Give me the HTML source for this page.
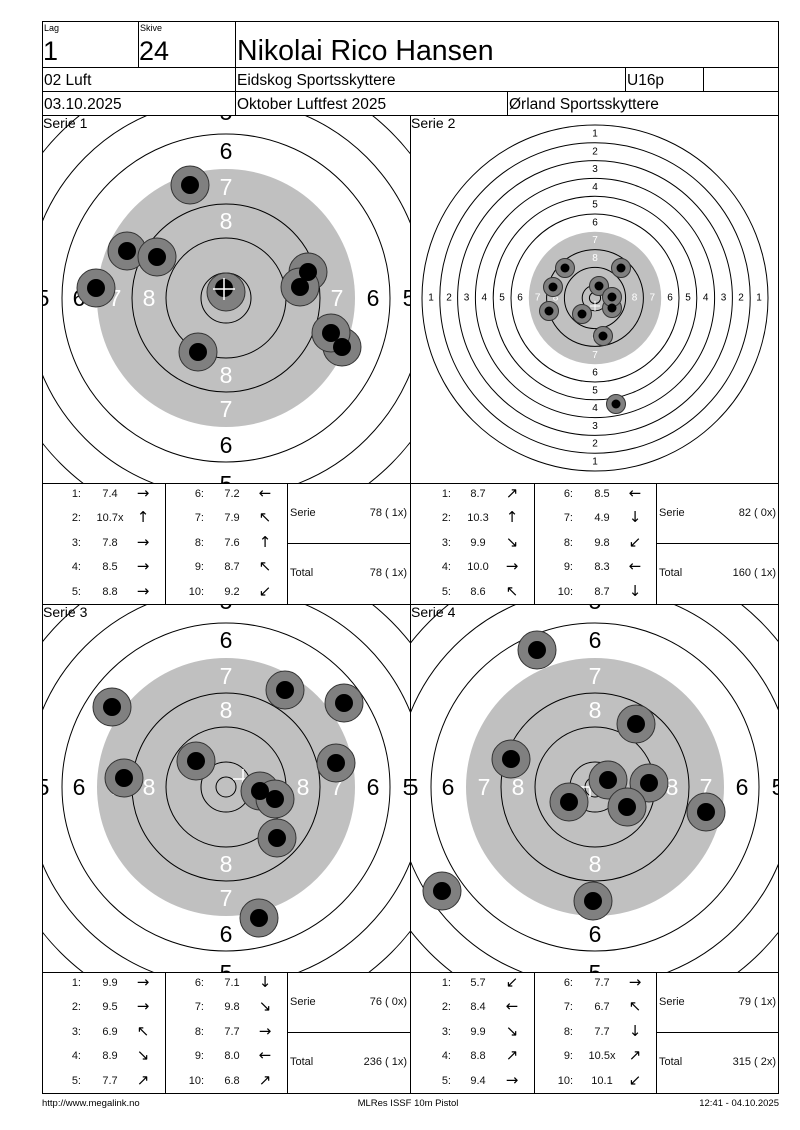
<!DOCTYPE html>
<html><head><meta charset="utf-8"><style>
html,body{margin:0;padding:0;background:#fff;}
svg{display:block;font-family:"Liberation Sans",Arial,sans-serif;}
.t{font-size:11px;fill:#111;}
.n{font-size:11px;fill:#111;text-anchor:end;}
.v{font-size:11px;fill:#111;text-anchor:middle;}
.a{font-size:15px;fill:#000;text-anchor:middle;font-family:"DejaVu Sans",sans-serif;}
.big{font-size:23px;text-anchor:middle;dominant-baseline:central;}
.sm{font-size:10px;text-anchor:middle;dominant-baseline:central;}
</style></head><body>
<svg width="800" height="1130" viewBox="0 0 800 1130" xmlns="http://www.w3.org/2000/svg">
<defs>
<clipPath id="c1"><rect x="42" y="115" width="368" height="368"/></clipPath>
<clipPath id="c2"><rect x="410" y="115" width="368" height="368"/></clipPath>
<clipPath id="c3"><rect x="42" y="604" width="368" height="368"/></clipPath>
<clipPath id="c4"><rect x="410" y="604" width="368" height="368"/></clipPath>
</defs>
<rect width="800" height="1130" fill="#fff"/>

<!-- header -->
<g stroke="#000" stroke-width="1" fill="none">
<rect x="42.5" y="21.5" width="736" height="1072"/>
<line x1="42" y1="67.5" x2="778" y2="67.5"/>
<line x1="42" y1="91.5" x2="778" y2="91.5"/>
<line x1="42" y1="115.5" x2="778" y2="115.5"/>
<line x1="138.5" y1="21" x2="138.5" y2="67"/>
<line x1="235.5" y1="21" x2="235.5" y2="115"/>
<line x1="625.5" y1="67" x2="625.5" y2="91"/>
<line x1="703.5" y1="67" x2="703.5" y2="91"/>
<line x1="507.5" y1="91" x2="507.5" y2="115"/>
</g>
<text x="44" y="31" font-size="9">Lag</text>
<text x="140" y="31" font-size="9">Skive</text>
<text x="43" y="60" font-size="27">1</text>
<text x="139" y="60" font-size="27">24</text>
<text x="237" y="60" font-size="28.5">Nikolai Rico Hansen</text>
<text x="44" y="85" font-size="15.5">02 Luft</text>
<text x="237" y="85" font-size="15.5">Eidskog Sportsskyttere</text>
<text x="627" y="85" font-size="15.5">U16p</text>
<text x="44" y="109" font-size="15.5">03.10.2025</text>
<text x="237" y="109" font-size="15.5">Oktober Luftfest 2025</text>
<text x="509" y="109" font-size="15.5">Ørland Sportsskyttere</text>

<!-- Serie 1 -->
<g clip-path="url(#c1)">
<g transform="translate(226,298)">
<g fill="none" stroke="#000"><circle r="234"/><circle r="199"/><circle r="164"/></g>
<circle r="129" fill="#c0c0c0"/>
<g fill="none" stroke="#000"><circle r="94"/><circle r="60"/><circle r="25"/><circle r="10"/></g>
<g class="big" fill="#000"><text y="-186">5</text><text y="186">5</text><text x="-183">5</text><text x="183">5</text>
<text y="-147">6</text><text y="147">6</text><text x="-147">6</text><text x="147">6</text></g>
<g class="big" fill="#fff"><text y="-111">7</text><text y="111">7</text><text x="-111">7</text><text x="111">7</text>
<text y="-77">8</text><text y="77">8</text><text x="-77">8</text><text x="77">8</text></g>
</g>
<g stroke="#333" fill="#808080">
<circle cx="190" cy="185" r="19"/><circle cx="127" cy="251" r="19"/><circle cx="157" cy="257" r="19"/><circle cx="96" cy="288" r="19"/>
<circle cx="308" cy="272" r="19"/><circle cx="300" cy="287" r="19"/><circle cx="342" cy="347" r="19"/><circle cx="331" cy="333" r="19"/>
<circle cx="198" cy="352" r="19"/><circle cx="226" cy="292" r="19"/>
</g>
<g fill="#000">
<circle cx="190" cy="185" r="9"/><circle cx="127" cy="251" r="9"/><circle cx="157" cy="257" r="9"/><circle cx="96" cy="288" r="9"/>
<circle cx="308" cy="272" r="9"/><circle cx="300" cy="287" r="9"/><circle cx="342" cy="347" r="9"/><circle cx="331" cy="333" r="9"/>
<circle cx="198" cy="352" r="9"/><circle cx="224" cy="288" r="9"/>
</g>
<path d="M213 289h22M224 278v22" stroke="#fff" stroke-width="1.5"/>
<text x="43" y="128" font-size="14">Serie 1</text>
</g>

<!-- Serie 2 -->
<g clip-path="url(#c2)">
<g transform="translate(595,298)">
<g fill="none" stroke="#000"><circle r="173"/><circle r="155.2"/><circle r="137.4"/><circle r="119.6"/><circle r="101.8"/><circle r="84"/></g>
<circle r="66.2" fill="#c0c0c0"/>
<g fill="none" stroke="#000"><circle r="48.4"/><circle r="30.6"/><circle r="12.8"/><circle r="5.6"/></g>
<g class="sm" fill="#000">
<text y="-164">1</text><text y="164">1</text><text x="-164">1</text><text x="164">1</text>
<text y="-146">2</text><text y="146">2</text><text x="-146">2</text><text x="146">2</text>
<text y="-128.5">3</text><text y="128.5">3</text><text x="-128.5">3</text><text x="128.5">3</text>
<text y="-110.7">4</text><text y="110.7">4</text><text x="-110.7">4</text><text x="110.7">4</text>
<text y="-93">5</text><text y="93">5</text><text x="-93">5</text><text x="93">5</text>
<text y="-75">6</text><text y="75">6</text><text x="-75">6</text><text x="75">6</text></g>
<g class="sm" fill="#fff">
<text y="-57.3">7</text><text y="57.3">7</text><text x="-57.3">7</text><text x="57.3">7</text>
<text y="-39.5">8</text><text y="39.5">8</text><text x="-39.5">8</text><text x="39.5">8</text></g>
</g>
<path d="M590 306h10M595 301v10" stroke="#fff"/>
<g stroke="#333" fill="#808080">
<circle cx="565" cy="268" r="9.5"/><circle cx="621" cy="268" r="9.5"/><circle cx="553" cy="287" r="9.5"/><circle cx="599" cy="286" r="9.5"/>
<circle cx="612" cy="308" r="9.5"/><circle cx="612" cy="297" r="9.5"/><circle cx="549" cy="311" r="9.5"/><circle cx="582" cy="314" r="9.5"/>
<circle cx="603" cy="336" r="9.5"/><circle cx="616" cy="404" r="9.5"/>
</g>
<g fill="#000">
<circle cx="565" cy="268" r="4.5"/><circle cx="621" cy="268" r="4.5"/><circle cx="553" cy="287" r="4.5"/><circle cx="599" cy="286" r="4.5"/>
<circle cx="612" cy="308" r="4.5"/><circle cx="612" cy="297" r="4.5"/><circle cx="549" cy="311" r="4.5"/><circle cx="582" cy="314" r="4.5"/>
<circle cx="603" cy="336" r="4.5"/><circle cx="616" cy="404" r="4.5"/>
</g>
<text x="411" y="128" font-size="14">Serie 2</text>
</g>

<!-- Serie 3 -->
<g clip-path="url(#c3)">
<g transform="translate(226,787)">
<g fill="none" stroke="#000"><circle r="234"/><circle r="199"/><circle r="164"/></g>
<circle r="129" fill="#c0c0c0"/>
<g fill="none" stroke="#000"><circle r="94"/><circle r="60"/><circle r="25"/><circle r="10"/></g>
<g class="big" fill="#000"><text y="-186">5</text><text y="186">5</text><text x="-183">5</text><text x="183">5</text>
<text y="-147">6</text><text y="147">6</text><text x="-147">6</text><text x="147">6</text></g>
<g class="big" fill="#fff"><text y="-111">7</text><text y="111">7</text><text x="-111">7</text><text x="111">7</text>
<text y="-77">8</text><text y="77">8</text><text x="-77">8</text><text x="77">8</text></g>
</g>
<path d="M233 779h20M243 769v20" stroke="#fff" stroke-width="1.5"/>
<g stroke="#333" fill="#808080">
<circle cx="112" cy="707" r="19"/><circle cx="285" cy="690" r="19"/><circle cx="344" cy="703" r="19"/><circle cx="124" cy="778" r="19"/>
<circle cx="196" cy="761" r="19"/><circle cx="336" cy="763" r="19"/><circle cx="260" cy="791" r="19"/><circle cx="275" cy="799" r="19"/>
<circle cx="277" cy="838" r="19"/><circle cx="259" cy="918" r="19"/>
</g>
<g fill="#000">
<circle cx="112" cy="707" r="9"/><circle cx="285" cy="690" r="9"/><circle cx="344" cy="703" r="9"/><circle cx="124" cy="778" r="9"/>
<circle cx="196" cy="761" r="9"/><circle cx="336" cy="763" r="9"/><circle cx="260" cy="791" r="9"/><circle cx="275" cy="799" r="9"/>
<circle cx="277" cy="838" r="9"/><circle cx="259" cy="918" r="9"/>
</g>
<text x="43" y="617" font-size="14">Serie 3</text>
</g>

<!-- Serie 4 -->
<g clip-path="url(#c4)">
<g transform="translate(595,787)">
<g fill="none" stroke="#000"><circle r="234"/><circle r="199"/><circle r="164"/></g>
<circle r="129" fill="#c0c0c0"/>
<g fill="none" stroke="#000"><circle r="94"/><circle r="60"/><circle r="25"/><circle r="10"/></g>
<g class="big" fill="#000"><text y="-186">5</text><text y="186">5</text><text x="-183">5</text><text x="183">5</text>
<text y="-147">6</text><text y="147">6</text><text x="-147">6</text><text x="147">6</text></g>
<g class="big" fill="#fff"><text y="-111">7</text><text y="111">7</text><text x="-111">7</text><text x="111">7</text>
<text y="-77">8</text><text y="77">8</text><text x="-77">8</text><text x="77">8</text></g>
</g>
<path d="M580 787h20M590 777v20" stroke="#fff" stroke-width="1.5"/>
<g stroke="#333" fill="#808080">
<circle cx="537" cy="650" r="19"/><circle cx="636" cy="724" r="19"/><circle cx="511" cy="759" r="19"/><circle cx="608" cy="780" r="19"/>
<circle cx="649" cy="783" r="19"/><circle cx="569" cy="802" r="19"/><circle cx="627" cy="807" r="19"/><circle cx="706" cy="812" r="19"/>
<circle cx="442" cy="891" r="19"/><circle cx="593" cy="901" r="19"/>
</g>
<g fill="#000">
<circle cx="537" cy="650" r="9"/><circle cx="636" cy="724" r="9"/><circle cx="511" cy="759" r="9"/><circle cx="608" cy="780" r="9"/>
<circle cx="649" cy="783" r="9"/><circle cx="569" cy="802" r="9"/><circle cx="627" cy="807" r="9"/><circle cx="706" cy="812" r="9"/>
<circle cx="442" cy="891" r="9"/><circle cx="593" cy="901" r="9"/>
</g>
<text x="411" y="617" font-size="14">Serie 4</text>
</g>

<!-- panel/table lines -->
<g stroke="#000" fill="none">
<line x1="410.5" y1="115" x2="410.5" y2="1093"/>
<line x1="42" y1="483.5" x2="778" y2="483.5"/>
<line x1="42" y1="604.5" x2="778" y2="604.5"/>
<line x1="42" y1="972.5" x2="778" y2="972.5"/>
<line x1="165.5" y1="483" x2="165.5" y2="604"/><line x1="287.5" y1="483" x2="287.5" y2="604"/>
<line x1="534.5" y1="483" x2="534.5" y2="604"/><line x1="656.5" y1="483" x2="656.5" y2="604"/>
<line x1="165.5" y1="972" x2="165.5" y2="1093"/><line x1="287.5" y1="972" x2="287.5" y2="1093"/>
<line x1="534.5" y1="972" x2="534.5" y2="1093"/><line x1="656.5" y1="972" x2="656.5" y2="1093"/>
<line x1="287" y1="543.5" x2="410" y2="543.5"/><line x1="656" y1="543.5" x2="778" y2="543.5"/>
<line x1="287" y1="1032.5" x2="410" y2="1032.5"/><line x1="656" y1="1032.5" x2="778" y2="1032.5"/>
</g>

<!-- Table 1 -->
<g>
<text class="n" x="81" y="497">1:</text><text class="v" x="110" y="497">7.4</text><text class="a" x="143" y="498">→</text>
<text class="n" x="81" y="521">2:</text><text class="v" x="110" y="521">10.7x</text><text class="a" x="143" y="522">↑</text>
<text class="n" x="81" y="546">3:</text><text class="v" x="110" y="546">7.8</text><text class="a" x="143" y="547">→</text>
<text class="n" x="81" y="570">4:</text><text class="v" x="110" y="570">8.5</text><text class="a" x="143" y="571">→</text>
<text class="n" x="81" y="595">5:</text><text class="v" x="110" y="595">8.8</text><text class="a" x="143" y="596">→</text>
<text class="n" x="204" y="497">6:</text><text class="v" x="232" y="497">7.2</text><text class="a" x="265" y="498">←</text>
<text class="n" x="204" y="521">7:</text><text class="v" x="232" y="521">7.9</text><text class="a" x="265" y="522">↖</text>
<text class="n" x="204" y="546">8:</text><text class="v" x="232" y="546">7.6</text><text class="a" x="265" y="547">↑</text>
<text class="n" x="204" y="570">9:</text><text class="v" x="232" y="570">8.7</text><text class="a" x="265" y="571">↖</text>
<text class="n" x="204" y="595">10:</text><text class="v" x="232" y="595">9.2</text><text class="a" x="265" y="596">↙</text>
<text class="t" x="290" y="516">Serie</text><text class="n" x="407" y="516">78 ( 1x)</text>
<text class="t" x="290" y="576">Total</text><text class="n" x="407" y="576">78 ( 1x)</text>
</g>
<!-- Table 2 -->
<g>
<text class="n" x="451" y="497">1:</text><text class="v" x="478" y="497">8.7</text><text class="a" x="512" y="498">↗</text>
<text class="n" x="451" y="521">2:</text><text class="v" x="478" y="521">10.3</text><text class="a" x="512" y="522">↑</text>
<text class="n" x="451" y="546">3:</text><text class="v" x="478" y="546">9.9</text><text class="a" x="512" y="547">↘</text>
<text class="n" x="451" y="570">4:</text><text class="v" x="478" y="570">10.0</text><text class="a" x="512" y="571">→</text>
<text class="n" x="451" y="595">5:</text><text class="v" x="478" y="595">8.6</text><text class="a" x="512" y="596">↖</text>
<text class="n" x="573" y="497">6:</text><text class="v" x="602" y="497">8.5</text><text class="a" x="635" y="498">←</text>
<text class="n" x="573" y="521">7:</text><text class="v" x="602" y="521">4.9</text><text class="a" x="635" y="522">↓</text>
<text class="n" x="573" y="546">8:</text><text class="v" x="602" y="546">9.8</text><text class="a" x="635" y="547">↙</text>
<text class="n" x="573" y="570">9:</text><text class="v" x="602" y="570">8.3</text><text class="a" x="635" y="571">←</text>
<text class="n" x="573" y="595">10:</text><text class="v" x="602" y="595">8.7</text><text class="a" x="635" y="596">↓</text>
<text class="t" x="659" y="516">Serie</text><text class="n" x="776" y="516">82 ( 0x)</text>
<text class="t" x="659" y="576">Total</text><text class="n" x="776" y="576">160 ( 1x)</text>
</g>
<!-- Table 3 -->
<g>
<text class="n" x="81" y="986">1:</text><text class="v" x="110" y="986">9.9</text><text class="a" x="143" y="987">→</text>
<text class="n" x="81" y="1010">2:</text><text class="v" x="110" y="1010">9.5</text><text class="a" x="143" y="1011">→</text>
<text class="n" x="81" y="1035">3:</text><text class="v" x="110" y="1035">6.9</text><text class="a" x="143" y="1036">↖</text>
<text class="n" x="81" y="1059">4:</text><text class="v" x="110" y="1059">8.9</text><text class="a" x="143" y="1060">↘</text>
<text class="n" x="81" y="1084">5:</text><text class="v" x="110" y="1084">7.7</text><text class="a" x="143" y="1085">↗</text>
<text class="n" x="204" y="986">6:</text><text class="v" x="232" y="986">7.1</text><text class="a" x="265" y="987">↓</text>
<text class="n" x="204" y="1010">7:</text><text class="v" x="232" y="1010">9.8</text><text class="a" x="265" y="1011">↘</text>
<text class="n" x="204" y="1035">8:</text><text class="v" x="232" y="1035">7.7</text><text class="a" x="265" y="1036">→</text>
<text class="n" x="204" y="1059">9:</text><text class="v" x="232" y="1059">8.0</text><text class="a" x="265" y="1060">←</text>
<text class="n" x="204" y="1084">10:</text><text class="v" x="232" y="1084">6.8</text><text class="a" x="265" y="1085">↗</text>
<text class="t" x="290" y="1005">Serie</text><text class="n" x="407" y="1005">76 ( 0x)</text>
<text class="t" x="290" y="1065">Total</text><text class="n" x="407" y="1065">236 ( 1x)</text>
</g>
<!-- Table 4 -->
<g>
<text class="n" x="451" y="986">1:</text><text class="v" x="478" y="986">5.7</text><text class="a" x="512" y="987">↙</text>
<text class="n" x="451" y="1010">2:</text><text class="v" x="478" y="1010">8.4</text><text class="a" x="512" y="1011">←</text>
<text class="n" x="451" y="1035">3:</text><text class="v" x="478" y="1035">9.9</text><text class="a" x="512" y="1036">↘</text>
<text class="n" x="451" y="1059">4:</text><text class="v" x="478" y="1059">8.8</text><text class="a" x="512" y="1060">↗</text>
<text class="n" x="451" y="1084">5:</text><text class="v" x="478" y="1084">9.4</text><text class="a" x="512" y="1085">→</text>
<text class="n" x="573" y="986">6:</text><text class="v" x="602" y="986">7.7</text><text class="a" x="635" y="987">→</text>
<text class="n" x="573" y="1010">7:</text><text class="v" x="602" y="1010">6.7</text><text class="a" x="635" y="1011">↖</text>
<text class="n" x="573" y="1035">8:</text><text class="v" x="602" y="1035">7.7</text><text class="a" x="635" y="1036">↓</text>
<text class="n" x="573" y="1059">9:</text><text class="v" x="602" y="1059">10.5x</text><text class="a" x="635" y="1060">↗</text>
<text class="n" x="573" y="1084">10:</text><text class="v" x="602" y="1084">10.1</text><text class="a" x="635" y="1085">↙</text>
<text class="t" x="659" y="1005">Serie</text><text class="n" x="776" y="1005">79 ( 1x)</text>
<text class="t" x="659" y="1065">Total</text><text class="n" x="776" y="1065">315 ( 2x)</text>
</g>

<!-- footer -->
<text x="42" y="1106" font-size="9.5">http://www.megalink.no</text>
<text x="408" y="1106" font-size="9.5" text-anchor="middle">MLRes ISSF 10m Pistol</text>
<text x="779" y="1106" font-size="9.5" text-anchor="end">12:41 - 04.10.2025</text>
</svg>
</body></html>
